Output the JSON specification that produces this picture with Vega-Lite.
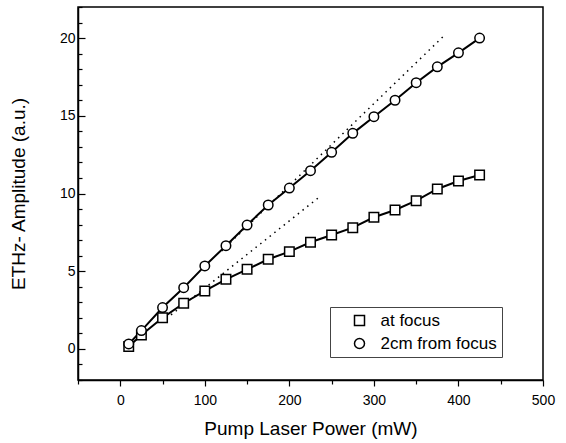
{
  "$schema": "https://vega.github.io/schema/vega-lite/v6.json",
  "width": 465,
  "height": 373,
  "autosize": {"type": "none"},
  "padding": {"left": 78, "top": 7, "right": 23, "bottom": 63},
  "background": "white",
  "config": {
    "font": "Liberation Sans",
    "view": {"stroke": "black", "strokeWidth": 1.5},
    "axis": {"grid": false, "tickColor": "black", "domainColor": "black", "labelColor": "black", "titleColor": "black", "tickWidth": 1.2, "domainWidth": 1.5, "labelFont": "Liberation Sans", "titleFont": "Liberation Sans", "titleFontWeight": "normal", "labelFlush": false, "labelOverlap": false}
  },
  "datasets": {
    "obs": [
      {"power": 10, "amp": 0.15, "series": "at focus"},
      {"power": 25, "amp": 0.9, "series": "at focus"},
      {"power": 50, "amp": 2.0, "series": "at focus"},
      {"power": 75, "amp": 2.94, "series": "at focus"},
      {"power": 100, "amp": 3.73, "series": "at focus"},
      {"power": 125, "amp": 4.48, "series": "at focus"},
      {"power": 150, "amp": 5.12, "series": "at focus"},
      {"power": 175, "amp": 5.77, "series": "at focus"},
      {"power": 200, "amp": 6.26, "series": "at focus"},
      {"power": 225, "amp": 6.86, "series": "at focus"},
      {"power": 250, "amp": 7.33, "series": "at focus"},
      {"power": 275, "amp": 7.8, "series": "at focus"},
      {"power": 300, "amp": 8.47, "series": "at focus"},
      {"power": 325, "amp": 8.94, "series": "at focus"},
      {"power": 350, "amp": 9.54, "series": "at focus"},
      {"power": 375, "amp": 10.29, "series": "at focus"},
      {"power": 400, "amp": 10.8, "series": "at focus"},
      {"power": 425, "amp": 11.19, "series": "at focus"},
      {"power": 10, "amp": 0.32, "series": "2cm from focus"},
      {"power": 25, "amp": 1.18, "series": "2cm from focus"},
      {"power": 50, "amp": 2.66, "series": "2cm from focus"},
      {"power": 75, "amp": 3.94, "series": "2cm from focus"},
      {"power": 100, "amp": 5.34, "series": "2cm from focus"},
      {"power": 125, "amp": 6.64, "series": "2cm from focus"},
      {"power": 150, "amp": 7.97, "series": "2cm from focus"},
      {"power": 175, "amp": 9.26, "series": "2cm from focus"},
      {"power": 200, "amp": 10.35, "series": "2cm from focus"},
      {"power": 225, "amp": 11.47, "series": "2cm from focus"},
      {"power": 250, "amp": 12.65, "series": "2cm from focus"},
      {"power": 275, "amp": 13.87, "series": "2cm from focus"},
      {"power": 300, "amp": 14.94, "series": "2cm from focus"},
      {"power": 325, "amp": 16.0, "series": "2cm from focus"},
      {"power": 350, "amp": 17.13, "series": "2cm from focus"},
      {"power": 375, "amp": 18.15, "series": "2cm from focus"},
      {"power": 400, "amp": 19.05, "series": "2cm from focus"},
      {"power": 425, "amp": 20.0, "series": "2cm from focus"}
    ],
    "fits": [
      {"power": 120, "amp": 6.31, "fit": "linear 2cm"},
      {"power": 385, "amp": 20.26, "fit": "linear 2cm"},
      {"power": 60, "amp": 2.19, "fit": "linear focus"},
      {"power": 234, "amp": 9.71, "fit": "linear focus"}
    ]
  },
  "encoding": {
    "x": {"field": "power", "type": "quantitative", "scale": {"domain": [-50, 500], "nice": false, "zero": false},
          "axis": {"orient": "bottom", "values": [-50, 0, 50, 100, 150, 200, 250, 300, 350, 400, 450, 500],
                   "labelExpr": "datum.value % 100 === 0 ? datum.label : ''", "labelOverlap": false,
                   "tickSize": {"condition": {"test": "datum.value % 100 === 0", "value": 6}, "value": 4},
                   "labelFontSize": 14, "labelPadding": 7, "title": "Pump Laser Power (mW)", "titleFontSize": 19, "titlePadding": 12}},
    "y": {"field": "amp", "type": "quantitative", "scale": {"domain": [-2, 22], "nice": false, "zero": false},
          "axis": {"orient": "left", "values": [-2, -1, 0, 1, 2, 3, 4, 5, 6, 7, 8, 9, 10, 11, 12, 13, 14, 15, 16, 17, 18, 19, 20, 21, 22],
                   "labelExpr": "datum.value % 5 === 0 ? datum.label : ''", "labelOverlap": false,
                   "tickSize": {"condition": {"test": "datum.value % 5 === 0", "value": -7}, "value": -4},
                   "labelFontSize": 14, "labelPadding": 10, "title": "ETHz- Amplitude (a.u.)", "titleFontSize": 19, "titlePadding": 31}}
  },
  "layer": [
    {
      "data": {"name": "fits"},
      "mark": {"type": "line", "color": "black", "strokeWidth": 1.5, "strokeDash": [1.5, 4.5]},
      "encoding": {
        "detail": {"field": "fit", "type": "nominal"}
      }
    },
    {
      "data": {"name": "obs"},
      "mark": {"type": "line", "color": "black", "strokeWidth": 2},
      "encoding": {
        "detail": {"field": "series", "type": "nominal"}
      }
    },
    {
      "data": {"name": "obs"},
      "mark": {"type": "point", "filled": true, "fill": "white", "stroke": "black", "strokeWidth": 1.5, "opacity": 1, "size": 90},
      "encoding": {
        "shape": {
          "field": "series", "type": "nominal",
          "scale": {"domain": ["at focus", "2cm from focus"], "range": ["square", "circle"]},
          "legend": {
            "orient": "none", "legendX": 252, "legendY": 300, "title": null,
            "padding": 5, "symbolSize": 100, "symbolOffset": 16, "labelOffset": 12.5, "rowPadding": 5,
            "labelFontSize": 17, "labelFont": "Liberation Sans", "labelColor": "black",
            "strokeColor": "#444", "fillColor": "white"
          }
        }
      }
    }
  ]
}
